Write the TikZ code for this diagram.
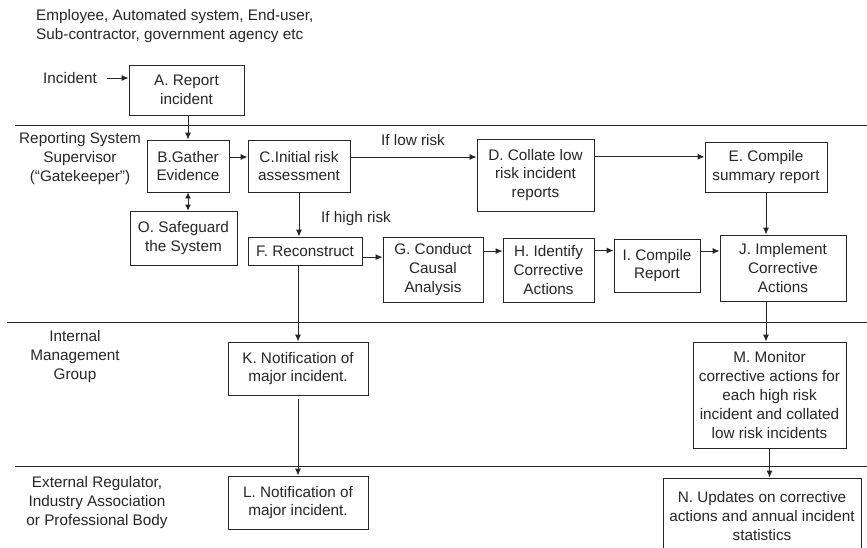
\documentclass[tikz,border=0pt]{standalone}
\usepackage{fontspec}
\setmainfont{Liberation Sans}
\usetikzlibrary{arrows.meta,calc}
\definecolor{ink}{HTML}{262626}
\tikzset{
  box/.style={draw=ink, line width=0.9pt, inner sep=0pt, align=center,
    text=ink, font=\fontsize{15.3}{18.8}\selectfont},
  lbl/.style={inner sep=0pt, align=center, text=ink,
    font=\fontsize{15.3}{19}\selectfont},
  arr/.style={draw=ink, line width=0.9pt, -{Latex[length=7pt,width=6pt]}},
  dblarr/.style={draw=ink, line width=0.9pt,
    {Latex[length=6pt,width=6pt]}-{Latex[length=6pt,width=6pt]}},
  lane/.style={draw=ink, line width=0.9pt}
}
\begin{document}
\begin{tikzpicture}[x=1pt,y=-1pt]
\useasboundingbox (0,0) rectangle (867,547);
\clip (0,0) rectangle (867,547);

% swim-lane dividers
\draw[lane] (15,125) -- (867,125);
\draw[lane] (7,322) -- (867,322);
\draw[lane] (15,466) -- (867,466);

% lane titles
\node[lbl, align=left, anchor=west] (src) at (36,26)
  {Employee, Automated system, End-user,\\Sub-contractor, government agency etc};
\node[lbl] (lane1) at (80,159) {Reporting System\\Supervisor\\(“Gatekeeper”)};
\node[lbl] (lane2) at (75,357) {Internal\\Management\\Group};
\node[lbl] (lane3) at (97,503) {External Regulator,\\Industry Association\\or Professional Body};

% process boxes
\node[box, minimum width=115, minimum height=50] (A) at (186.5,90) {A. Report\\incident};
\node[box, minimum width=82,  minimum height=52] (B) at (188,166) {B.Gather\\Evidence};
\node[box, minimum width=102, minimum height=52] (C) at (299,166) {C.Initial risk\\assessment};
\node[box, minimum width=107, minimum height=54] (O) at (183.5,238) {O. Safeguard\\the System};
\node[box, minimum width=114, minimum height=28] (F) at (305,251) {F. Reconstruct};
\node[box, minimum width=117, minimum height=72] (D) at (535.5,175) {D. Collate low\\risk incident\\reports};
\node[box, minimum width=122, minimum height=50] (E) at (766,167) {E. Compile\\summary report};
\node[box, minimum width=100, minimum height=65] (G) at (433,269.5) {G. Conduct\\Causal\\Analysis};
\node[box, minimum width=91,  minimum height=64] (H) at (548.5,270) {H. Identify\\Corrective\\Actions};
\node[box, minimum width=86,  minimum height=53] (I) at (657,265.5) {I. Compile\\Report};
\node[box, minimum width=126, minimum height=66] (J) at (783,268) {J. Implement\\Corrective\\Actions};
\node[box, minimum width=140, minimum height=53] (K) at (298,368.5) {K. Notification of\\major incident.};
\node[box, minimum width=140, minimum height=53] (L) at (298,502.5) {L. Notification of\\major incident.};
\node[box, minimum width=153, minimum height=106] (M) at (769.5,395)
  {M. Monitor\\corrective actions for\\each high risk\\incident and collated\\low risk incidents};
\node[box, minimum width=198, minimum height=76] (N) at (762,516)
  {N. Updates on corrective\\actions and annual incident\\statistics};

% incoming incident
\node[lbl] (inc) at (70,78) {Incident};
\draw[arr] ([xshift=10pt]inc.east) -- (A.west |- inc.east);

% connectors
\draw[arr] (B.north |- A.south) -- (B.north);
\draw[dblarr] (B.south) -- (B.south |- O.north);
\draw[arr] ($(B.north east)!0.33!(B.south east)$) coordinate (bc) -- (bc -| C.west);
\draw[arr] ($(C.north east)!0.33!(C.south east)$) coordinate (cd) -- (cd -| D.west);
\draw[arr] ($(D.north east)!0.25!(D.south east)$) coordinate (de) -- (de -| E.west);
\draw[arr] (C.south) -- (C.south |- F.north);
\draw[arr] ($(F.north east)!0.71!(F.south east)$) coordinate (fg) -- (fg -| G.west);
\draw[arr] ($(G.north east)!0.22!(G.south east)$) coordinate (gh) -- (gh -| H.west);
\draw[arr] ($(H.north east)!0.2!(H.south east)$) coordinate (hi) -- (hi -| I.west);
\draw[arr] ($(I.north east)!0.23!(I.south east)$) coordinate (ij) -- (ij -| J.west);
\draw[arr] (E.south) -- (E.south |- J.north);
\draw[arr] (E.south |- J.south) -- (E.south |- M.north);
\draw[arr] (M.south) -- (M.south |- N.north);
\draw[arr] (K.north |- F.south) -- (K.north);
\draw[arr] ([yshift=-4pt]K.south) -- (L.north);

% branch labels
\node[lbl] (low) at (413,140) {If low risk};
\node[lbl] (high) at (356,219) {If high risk};
\end{tikzpicture}
\end{document}
